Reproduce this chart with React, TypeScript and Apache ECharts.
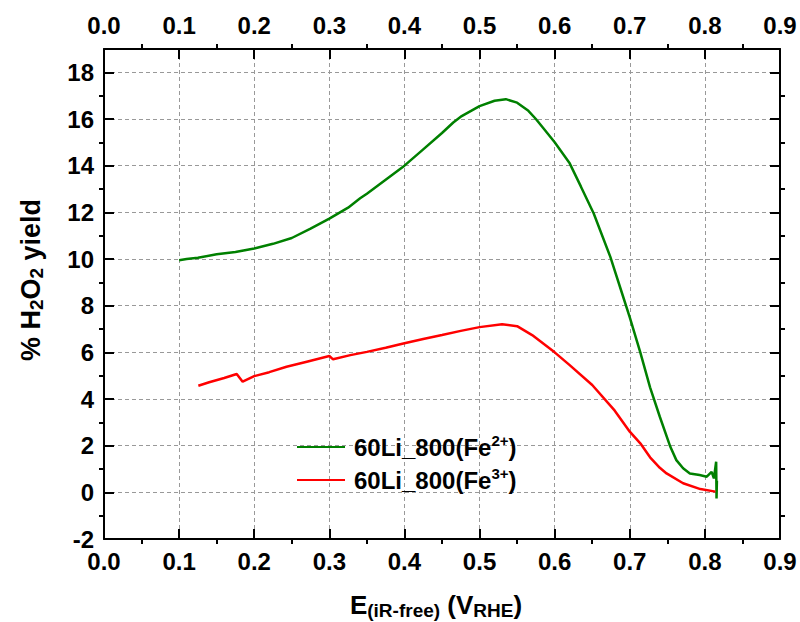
import React, { useEffect, useRef } from "react";
import * as echarts from "echarts";

const greenX = [0.100, 0.110, 0.125, 0.150, 0.175, 0.200, 0.225, 0.250, 0.275, 0.300, 0.325, 0.341, 0.350, 0.375, 0.400, 0.425, 0.450, 0.465, 0.475, 0.500, 0.520, 0.535, 0.550, 0.565, 0.575, 0.585, 0.600, 0.620, 0.635, 0.652, 0.674, 0.690, 0.700, 0.714, 0.727, 0.740, 0.754, 0.762, 0.771, 0.780, 0.793, 0.8025, 0.809, 0.812, 0.815, 0.8155, 0.816];
const greenY = [9.95, 10.0, 10.05, 10.2, 10.3, 10.45, 10.65, 10.9, 11.3, 11.73, 12.2, 12.6, 12.8, 13.4, 14.0, 14.7, 15.4, 15.85, 16.1, 16.55, 16.78, 16.85, 16.7, 16.35, 16.0, 15.6, 15.0, 14.1, 13.1, 11.95, 10.1, 8.5, 7.5, 6.0, 4.5, 3.24, 1.95, 1.38, 1.03, 0.81, 0.74, 0.67, 0.88, 0.6, 1.31, -0.26, 0.5];

const redX = [0.1256, 0.140, 0.160, 0.1767, 0.1846, 0.200, 0.220, 0.243, 0.270, 0.300, 0.305, 0.328, 0.350, 0.375, 0.400, 0.425, 0.450, 0.475, 0.500, 0.530, 0.550, 0.570, 0.600, 0.620, 0.650, 0.680, 0.700, 0.714, 0.727, 0.740, 0.749, 0.771, 0.794, 0.814];
const redY = [4.57, 4.72, 4.9, 5.07, 4.74, 4.98, 5.15, 5.38, 5.6, 5.84, 5.7, 5.88, 6.02, 6.2, 6.39, 6.57, 6.74, 6.92, 7.08, 7.2, 7.12, 6.74, 6.0, 5.45, 4.6, 3.5, 2.6, 2.1, 1.5, 1.05, 0.81, 0.39, 0.14, 0.03];

const seriesNames = ["60Li_800(Fe2+)", "60Li_800(Fe3+)"];
const legendSup = ["2+", "3+"];

const FONT = "Liberation Sans, Arial, sans-serif";

export default function App() {
  const ref = useRef<HTMLDivElement>(null);
  useEffect(() => {
    if (!ref.current) return;
    const chart = echarts.init(ref.current, null, { renderer: "svg" });
    const zip = (xs: number[], ys: number[]) => xs.map((x, i) => [x, ys[i]]);
    const labelStyle = { fontFamily: FONT, fontWeight: "bold" as const, fontSize: 24, color: "#000" };
    const axisLine = { show: true, onZero: false, lineStyle: { color: "#000", width: 2 } };
    const tick = { show: true, inside: true, length: 10, lineStyle: { color: "#000", width: 2 } };
    const minorTick = { show: true, splitNumber: 2, length: -5, lineStyle: { color: "#000", width: 2 } };
    const split = { show: true, lineStyle: { color: "#999", width: 1, type: [4, 3] as number[] } };
    const noSplit = { show: false };
    const xFmt = (v: number) => v.toFixed(1);
    const xBase = { type: "value", min: 0, max: 0.9, interval: 0.1 };
    const yBase = { type: "value", min: -2, max: 19, interval: 2 };
    chart.setOption({
      animation: false,
      backgroundColor: "#fff",
      grid: { left: 104, right: 20, top: 49, bottom: 83, containLabel: false },
      xAxis: [
        {
          ...xBase, position: "bottom",
          axisLine, axisTick: tick, minorTick, splitLine: split, minorSplitLine: noSplit,
          axisLabel: { ...labelStyle, margin: 10, formatter: xFmt },
        },
        {
          ...xBase, position: "top",
          axisLine, axisTick: tick, minorTick, splitLine: noSplit, minorSplitLine: noSplit,
          axisLabel: { ...labelStyle, margin: 12, formatter: xFmt },
        },
      ],
      yAxis: [
        {
          ...yBase, position: "left",
          axisLine, axisTick: tick, minorTick, splitLine: split, minorSplitLine: noSplit,
          axisLabel: { ...labelStyle, margin: 10, showMaxLabel: false },
        },
        {
          ...yBase, position: "right",
          axisLine, axisTick: tick, minorTick, splitLine: noSplit, minorSplitLine: noSplit,
          axisLabel: { show: false },
        },
      ],
      legend: {
        orient: "vertical",
        left: 292,
        top: 428,
        itemWidth: 48,
        itemHeight: 2,
        itemGap: 7,
        icon: "rect",
        data: seriesNames,
        formatter: (name: string) => {
          const i = seriesNames.indexOf(name);
          return `{p|}{a|60Li_800(Fe}{s|${legendSup[i]}}{a|)}`;
        },
        textStyle: {
          fontFamily: FONT,
          fontWeight: "bold",
          fontSize: 24,
          color: "#000",
          rich: {
            p: { width: 4, fontSize: 24, lineHeight: 28 },
            a: { fontFamily: FONT, fontWeight: "bold", fontSize: 24, lineHeight: 28, color: "#000" },
            s: { fontFamily: FONT, fontWeight: "bold", fontSize: 15, lineHeight: 14, verticalAlign: "top", color: "#000" },
          },
        },
      },
      graphic: [
        {
          type: "text",
          x: 436,
          y: 605,
          style: {
            text: "{a|E}{s|(iR-free)}{a| (V}{s|RHE}{a|)}",
            align: "center",
            verticalAlign: "middle",
            rich: {
              a: { fontFamily: FONT, fontWeight: "bold", fontSize: 26, lineHeight: 30, fill: "#000" },
              s: { fontFamily: FONT, fontWeight: "bold", fontSize: 19, lineHeight: 16, verticalAlign: "bottom", fill: "#000" },
            },
          },
        },
        {
          type: "text",
          x: 31,
          y: 280,
          rotation: Math.PI / 2,
          style: {
            text: "{a|% H}{s|2}{a|O}{s|2}{a| yield}",
            align: "center",
            verticalAlign: "middle",
            rich: {
              a: { fontFamily: FONT, fontWeight: "bold", fontSize: 27, lineHeight: 30, fill: "#000" },
              s: { fontFamily: FONT, fontWeight: "bold", fontSize: 19, lineHeight: 16, verticalAlign: "bottom", fill: "#000" },
            },
          },
        },
      ],
      series: [
        {
          name: seriesNames[0], type: "line", xAxisIndex: 0, yAxisIndex: 0,
          data: zip(greenX, greenY), showSymbol: false, symbol: "none",
          lineStyle: { color: "#008000", width: 2.5 }, itemStyle: { color: "#008000" },
        },
        {
          name: seriesNames[1], type: "line", xAxisIndex: 0, yAxisIndex: 0,
          data: zip(redX, redY), showSymbol: false, symbol: "none",
          lineStyle: { color: "#ff0000", width: 2.5 }, itemStyle: { color: "#ff0000" },
        },
      ],
    });
    return () => chart.dispose();
  }, []);
  return <div ref={ref} style={{ width: 800, height: 622, position: "absolute", left: 0, top: 0 }} />;
}
